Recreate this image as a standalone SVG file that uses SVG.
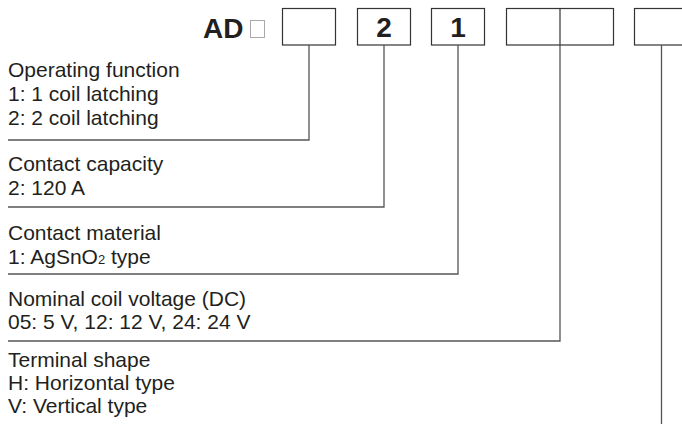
<svg xmlns="http://www.w3.org/2000/svg" width="682" height="430" viewBox="0 0 682 430">
<style>
.t{font-family:"Liberation Sans",Arial,sans-serif;font-size:21px;fill:#231f20}
.b{font-family:"Liberation Sans",Arial,sans-serif;font-weight:bold;font-size:28px;fill:#231f20}
.box{fill:#fff;stroke:#333;stroke-width:1.2}
.ln{fill:none;stroke:#555;stroke-width:1.3}
</style>
<rect width="682" height="430" fill="#fff"/>
<g id="code">
<text class="b" x="203" y="38">AD</text>
<rect x="250.5" y="20.5" width="14" height="17" fill="none" stroke="#aaa" stroke-width="1"/>
</g>
<g id="box1"><rect class="box" x="282.5" y="8.5" width="53" height="36.5"/></g>
<g id="box2"><rect class="box" x="357.5" y="8.5" width="53" height="36.5"/><text class="b" x="384" y="37" text-anchor="middle">2</text></g>
<g id="box3"><rect class="box" x="431.5" y="8.5" width="53" height="36.5"/><text class="b" x="458" y="37" text-anchor="middle">1</text></g>
<g id="box4"><rect class="box" x="506.5" y="8.5" width="107" height="36.5"/><line x1="560" y1="8.5" x2="560" y2="45" stroke="#333" stroke-width="1.2"/></g>
<g id="box5"><rect class="box" x="634.5" y="8.5" width="60" height="36.5"/></g>
<g id="connectors">
<polyline class="ln" points="8,140 309,140 309,45"/>
<polyline class="ln" points="8,207 384,207 384,45"/>
<polyline class="ln" points="8,274 458,274 458,45"/>
<polyline class="ln" points="8,341 560,341 560,45"/>
<line class="ln" x1="661.5" y1="45" x2="661.5" y2="424"/>
</g>
<g id="label1">
<text class="t" x="8" y="77">Operating function</text>
<text class="t" x="8" y="101">1: 1 coil latching</text>
<text class="t" x="8" y="125">2: 2 coil latching</text>
</g>
<g id="label2">
<text class="t" x="8" y="171">Contact capacity</text>
<text class="t" x="8" y="195">2: 120 A</text>
</g>
<g id="label3">
<text class="t" x="8" y="240">Contact material</text>
<text class="t" x="8" y="264">1: AgSnO<tspan font-size="13">2</tspan> type</text>
</g>
<g id="label4">
<text class="t" x="8" y="306">Nominal coil voltage (DC)</text>
<text class="t" x="8" y="329">05: 5 V, 12: 12 V, 24: 24 V</text>
</g>
<g id="label5">
<text class="t" x="8" y="367">Terminal shape</text>
<text class="t" x="8" y="390">H: Horizontal type</text>
<text class="t" x="8" y="413">V: Vertical type</text>
</g>
</svg>
